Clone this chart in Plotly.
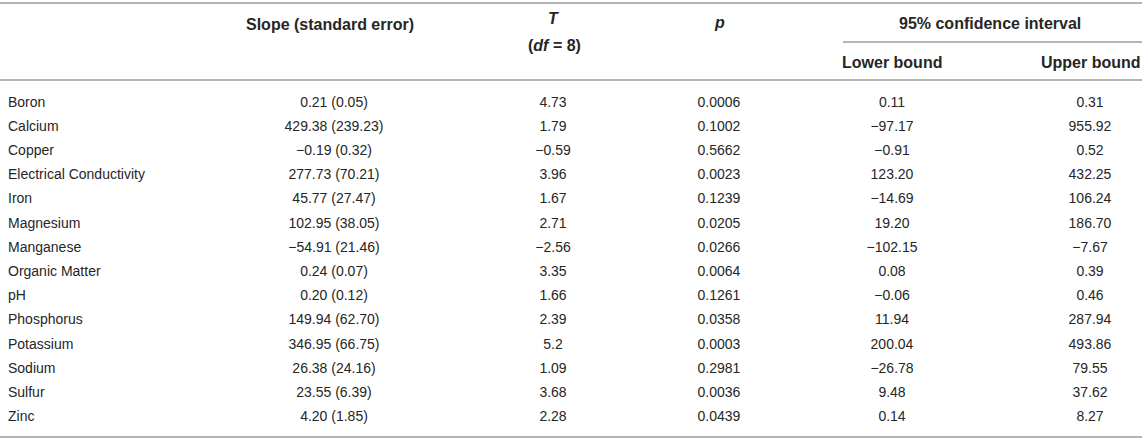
import plotly.graph_objects as go

# table values
variables = ["Boron", "Calcium", "Copper", "Electrical Conductivity", "Iron",
             "Magnesium", "Manganese", "Organic Matter", "pH", "Phosphorus",
             "Potassium", "Sodium", "Sulfur", "Zinc"]
slope = [0.21, 429.38, -0.19, 277.73, 45.77, 102.95, -54.91, 0.24, 0.20,
         149.94, 346.95, 26.38, 23.55, 4.20]
std_err = [0.05, 239.23, 0.32, 70.21, 27.47, 38.05, 21.46, 0.07, 0.12,
           62.70, 66.75, 24.16, 6.39, 1.85]
t_stat = [4.73, 1.79, -0.59, 3.96, 1.67, 2.71, -2.56, 3.35, 1.66, 2.39,
          5.2, 1.09, 3.68, 2.28]
p_val = [0.0006, 0.1002, 0.5662, 0.0023, 0.1239, 0.0205, 0.0266, 0.0064,
         0.1261, 0.0358, 0.0003, 0.2981, 0.0036, 0.0439]
ci_lower = [0.11, -97.17, -0.91, 123.20, -14.69, 19.20, -102.15, 0.08, -0.06,
            11.94, 200.04, -26.78, 9.48, 0.14]
ci_upper = [0.31, 955.92, 0.52, 432.25, 106.24, 186.70, -7.67, 0.39, 0.46,
            287.94, 493.86, 79.55, 37.62, 8.27]


def num(v, fmt):
    return format(v, fmt).replace("-", "\u2212")


W, H = 1142, 440
ROW0, ROW_H = 103, 24.2
FONT = "Liberation Sans, Arial, sans-serif"
TXT = "#262626"
RULE = "#b4b4b4"

rows_y = [ROW0 + ROW_H * i for i in range(len(variables))]

columns = [
    (8, "middle right", variables),
    (334, "middle center", [num(s, ".2f") + " (" + num(e, ".2f") + ")" for s, e in zip(slope, std_err)]),
    (553, "middle center", [num(t, "g") for t in t_stat]),
    (719, "middle center", [num(p, ".4f") for p in p_val]),
    (892, "middle center", [num(v, ".2f") for v in ci_lower]),
    (1090, "middle center", [num(v, ".2f") for v in ci_upper]),
]

fig = go.Figure()
for x, pos, texts in columns:
    fig.add_trace(go.Scatter(
        x=[x] * len(texts), y=rows_y, mode="text", text=texts,
        textposition=pos, hoverinfo="skip", showlegend=False,
        textfont=dict(family=FONT, size=14, color=TXT),
    ))

headers = [
    (330, 24, "<b>Slope (standard error)</b>"),
    (553, 18, "<b><i>T</i></b>"),
    (554, 45, "<b>(<i>df</i> = 8)</b>"),
    (719, 22, "<b><i>p</i></b>"),
    (990, 23, "<b>95% confidence interval</b>"),
    (892, 62, "<b>Lower bound</b>"),
    (1091, 62, "<b>Upper bound</b>"),
]
for x, y, t in headers:
    fig.add_annotation(x=x, y=y, xref="x", yref="y", text=t, showarrow=False,
                       xanchor="center", yanchor="middle",
                       font=dict(family=FONT, size=16, color=TXT))

# horizontal rules
for x0, x1, y in [(0, W, 3), (843, W, 42), (0, W, 80), (0, W, 437)]:
    fig.add_shape(type="line", xref="x", yref="y", x0=x0, x1=x1, y0=y, y1=y,
                  line=dict(color=RULE, width=2))

fig.update_xaxes(range=[0, W], visible=False, fixedrange=True)
fig.update_yaxes(range=[H, 0], visible=False, fixedrange=True)
fig.update_layout(
    width=W, height=H, margin=dict(l=0, r=0, t=0, b=0),
    plot_bgcolor="white", paper_bgcolor="white",
)

# drop the default page margin so the figure sits at the window's corner
fig.write_html("out.html", config={"displayModeBar": False},
               post_script="document.body.style.margin = '0';")
